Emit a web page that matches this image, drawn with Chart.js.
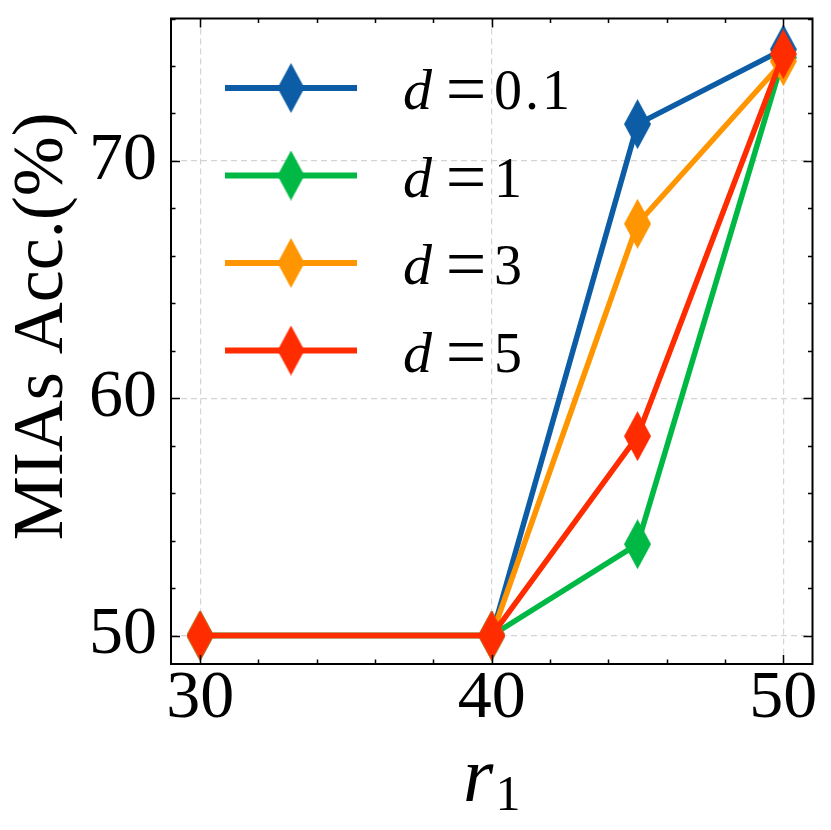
<!DOCTYPE html>
<html>
<head>
<meta charset="utf-8">
<title>MIAs Acc. vs r1</title>
<script src="https://cdn.jsdelivr.net/npm/chart.js@4.4.1/dist/chart.umd.min.js"></script>
<style>
    html, body { margin: 0; padding: 0; background: #fff; }
    #wrap { width: 831px; height: 830px; }
</style>
</head>
<body>
<div id="wrap"><canvas id="miaChart" width="831" height="830"></canvas></div>
<script>
// valores
const rValues = [30, 40, 45, 50];
const accD01 = [50, 50, 71.55, 74.7];
const accD1 = [50, 50, 53.85, 74.35];
const accD3 = [50, 50, 67.35, 74.2];
const accD5 = [50, 50, 58.4, 74.5];

const seriesLabels = ['0.1', '1', '3', '5'];
const seriesColors = ['#0C5DA5', '#00B945', '#FF9500', '#FF2C00'];

const xTicks = [30, 40, 50];
const yTicks = [50, 60, 70];
const minorStep = 2;

const yTitle = 'MIAs Acc.(%)';
const xTitle = 'r';
const xTitleSub = '1';

const SERIF = '"Liberation Serif", "Times New Roman", serif';

document.addEventListener('DOMContentLoaded', function() {
    Chart.defaults.font.family = SERIF;
    Chart.defaults.color = '#000';
    buildChart();
});

// losango fino (marcador 'd' do matplotlib)
function makeDiamond(color, w, h) {
    const c = document.createElement('canvas');
    c.width = w;
    c.height = h;
    const ctx = c.getContext('2d');
    ctx.fillStyle = color;
    ctx.beginPath();
    ctx.moveTo(w / 2, 0);
    ctx.lineTo(w, h / 2);
    ctx.lineTo(w / 2, h);
    ctx.lineTo(0, h / 2);
    ctx.closePath();
    ctx.fill();
    return c;
}

function toPoints(values) {
    return values.map((v, i) => ({ x: rValues[i], y: v }));
}

// moldura + ticks para dentro nos quatro lados
const frameTicksPlugin = {
    id: 'frameTicks',
    afterDraw(chart) {
        const { ctx, chartArea: a, scales } = chart;
        const x = scales.x, y = scales.y;
        ctx.save();
        ctx.strokeStyle = '#000';
        ctx.lineWidth = 1.5;
        ctx.beginPath();
        for (let v = Math.ceil(x.min / minorStep) * minorStep; v <= x.max; v += minorStep) {
            const px = Math.round(x.getPixelForValue(v)) + 0.5;
            const len = xTicks.includes(v) ? 9 : 4.5;
            ctx.moveTo(px, a.bottom); ctx.lineTo(px, a.bottom - len);
            ctx.moveTo(px, a.top); ctx.lineTo(px, a.top + len);
        }
        for (let v = Math.ceil(y.min / minorStep) * minorStep; v <= y.max; v += minorStep) {
            const py = Math.round(y.getPixelForValue(v)) + 0.5;
            const len = yTicks.includes(v) ? 9 : 4.5;
            ctx.moveTo(a.left, py); ctx.lineTo(a.left + len, py);
            ctx.moveTo(a.right, py); ctx.lineTo(a.right - len, py);
        }
        ctx.stroke();
        ctx.lineWidth = 2;
        ctx.strokeRect(a.left, a.top, a.right - a.left, a.bottom - a.top);
        ctx.restore();
    }
};

// titulos dos eixos
const axisTitlesPlugin = {
    id: 'axisTitles',
    afterDraw(chart) {
        const { ctx, chartArea: a } = chart;
        ctx.save();
        ctx.fillStyle = '#000';

        // eixo y
        ctx.translate(62, (a.top + a.bottom) / 2 - 15);
        ctx.rotate(-Math.PI / 2);
        ctx.font = '72px ' + SERIF;
        ctx.textAlign = 'center';
        ctx.textBaseline = 'alphabetic';
        ctx.fillText(yTitle, 0, 0);
        ctx.setTransform(1, 0, 0, 1, 0, 0);

        // eixo x: r com subscrito 1
        const mainFont = 'italic 78px ' + SERIF;
        const subFont = '50px ' + SERIF;
        ctx.font = mainFont;
        const wMain = ctx.measureText(xTitle).width;
        ctx.font = subFont;
        const wSub = ctx.measureText(xTitleSub).width;
        const cx = (a.left + a.right) / 2;
        const start = cx - (wMain + wSub + 2) / 2;
        ctx.textAlign = 'left';
        ctx.font = mainFont;
        ctx.fillText(xTitle, start, 801);
        ctx.font = subFont;
        ctx.fillText(xTitleSub, start + wMain + 2, 810);
        ctx.restore();
    }
};

// legenda sem moldura, canto superior esquerdo
const legendPlugin = {
    id: 'mathLegend',
    afterDraw(chart) {
        const { ctx } = chart;
        const rowY0 = 88, rowGap = 87.5;
        ctx.save();
        chart.data.datasets.forEach((ds, i) => {
            const yRow = rowY0 + i * rowGap;
            ctx.strokeStyle = ds.borderColor;
            ctx.lineWidth = 6;
            ctx.beginPath();
            ctx.moveTo(225, yRow);
            ctx.lineTo(357, yRow);
            ctx.stroke();
            const img = ds.pointStyle;
            ctx.drawImage(img, 291 - img.width / 2, yRow - img.height / 2);

            const base = yRow + 21;
            ctx.fillStyle = '#000';
            ctx.textAlign = 'left';
            ctx.textBaseline = 'alphabetic';
            ctx.font = 'italic 58px ' + SERIF;
            ctx.fillText('d', 403, base);
            ctx.font = '72px ' + SERIF;
            ctx.textAlign = 'center';
            ctx.fillText('=', 466, base + 4);
            ctx.textAlign = 'left';
            ctx.font = '56px ' + SERIF;
            ctx.letterSpacing = '3px';
            ctx.fillText(seriesLabels[i], 494, base);
            ctx.letterSpacing = '0px';
        });
        ctx.restore();
    }
};

function buildChart() {
    const allSeries = [accD01, accD1, accD3, accD5];
    const datasets = allSeries.map((values, i) => ({
        label: 'd = ' + seriesLabels[i],
        data: toPoints(values),
        borderColor: seriesColors[i],
        backgroundColor: seriesColors[i],
        borderWidth: 5.5,
        borderJoinStyle: 'round',
        tension: 0,
        pointStyle: makeDiamond(seriesColors[i], 27, 50),
        pointRadius: 13,
        pointHoverRadius: 13,
        order: allSeries.length - 1 - i
    }));

    const ctx = document.getElementById('miaChart').getContext('2d');
    new Chart(ctx, {
        type: 'line',
        data: { datasets: datasets },
        options: {
            responsive: false,
            animation: false,
            layout: { padding: { left: 0, top: 10, right: 16, bottom: 0 } },
            plugins: {
                legend: { display: false },
                tooltip: { enabled: false }
            },
            scales: {
                x: {
                    type: 'linear',
                    min: 29,
                    max: 51,
                    afterBuildTicks: s => { s.ticks = xTicks.map(v => ({ value: v })); },
                    afterFit: s => { s.height = 166; s.paddingLeft = 0; s.paddingRight = 0; },
                    grid: { color: '#d4d4d4', lineWidth: 1.2, drawTicks: false },
                    border: { display: false, dash: [6, 4] },
                    ticks: {
                        padding: 1,
                        maxRotation: 0,
                        font: { size: 68, lineHeight: 1 },
                        color: '#000'
                    }
                },
                y: {
                    min: 48.8,
                    max: 76.0,
                    afterBuildTicks: s => { s.ticks = yTicks.map(v => ({ value: v })); },
                    afterFit: s => { s.width = 171; s.paddingTop = 0; s.paddingBottom = 0; },
                    grid: { color: '#d4d4d4', lineWidth: 1.2, drawTicks: false },
                    border: { display: false, dash: [6, 4] },
                    ticks: {
                        padding: 14,
                        font: { size: 68, lineHeight: 1 },
                        color: '#000'
                    }
                }
            }
        },
        plugins: [frameTicksPlugin, axisTitlesPlugin, legendPlugin]
    });
}
</script>
</body>
</html>
